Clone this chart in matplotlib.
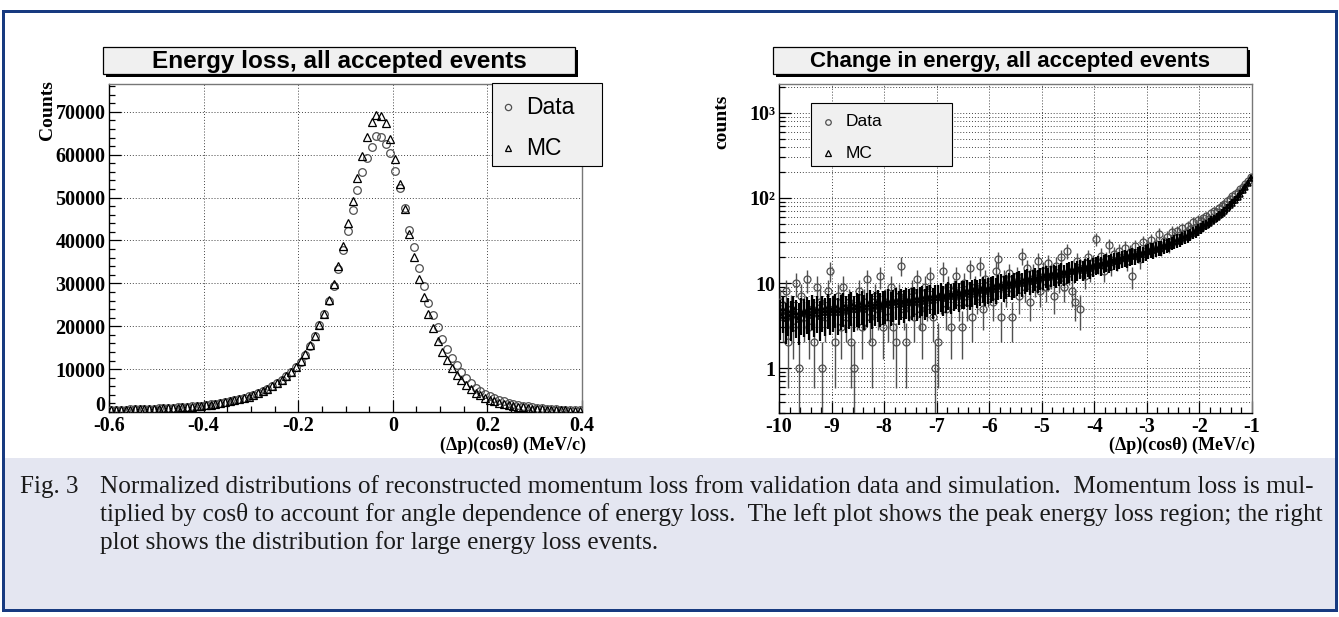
import numpy as np
import matplotlib
matplotlib.use("Agg")
import matplotlib.pyplot as plt
from matplotlib.patches import Rectangle
from matplotlib.lines import Line2D
from matplotlib.ticker import MultipleLocator, LogLocator, NullFormatter, FuncFormatter, FixedLocator

# ---------------- data ----------------
left_x = np.round(np.arange(-0.595, 0.40, 0.01), 3)          # bin centres
left_data = [500, 520, 540, 560, 590, 620, 650, 690, 730, 770, 820, 870, 930, 990, 1060, 1130,
             1210, 1300, 1400, 1510, 1630, 1760, 1910, 2080, 2270, 2480, 2720, 2990, 3290, 3630,
             4010, 4440, 4920, 5460, 6070, 6760, 7540, 8420, 9420, 10500,
             11700, 13300, 15400, 17800, 20200, 22800, 26000, 29300, 33300, 37700, 42200, 47200,
             51800, 55900, 59300, 61900, 64400, 64200, 62600, 60400, 56300, 52200, 47600, 42500,
             38400, 33500, 29500, 25500, 22700, 19800, 17000, 14600, 12700, 10900, 9300, 7900,
             6700, 5700,
             4800, 4200, 3700, 3250, 2850, 2500, 2200, 1930, 1700, 1500, 1320, 1160, 1020, 900,
             800, 710, 630, 560, 500, 450, 400, 360]
left_mc = [480, 500, 520, 540, 570, 600, 630, 660, 700, 740, 790, 840, 900, 960, 1030, 1100,
           1180, 1270, 1370, 1480, 1600, 1730, 1880, 2050, 2240, 2450, 2690, 2960, 3260, 3600,
           3980, 4410, 4890, 5430, 6040, 6730, 7510, 8400, 9400, 10600,
           11900, 13600, 15600, 17700, 20300, 22900, 26200, 29900, 34100, 38800, 44000, 49200,
           54600, 59700, 64200, 67700, 69200, 69000, 67300, 63600, 58900, 53100, 47400, 41400,
           36100, 31000, 26800, 22800, 19500, 16500, 14000, 12100, 10300, 8700, 7400, 6200,
           5300, 4500,
           3850, 3300, 2850, 2450, 2120, 1830, 1590, 1380, 1200, 1050, 920, 810, 710, 630,
           560, 500, 450, 400, 360, 330, 300, 270]

right_x = np.round(np.arange(-9.975, -1.0, 0.05), 3)          # bin centres
right_data = [6, 4, 8, 2, 5, 3, 10, 1, 7, 4,
              11, 3, 5, 2, 9, 6, 1, 4, 8, 14,
              5, 2, 7, 3, 9, 4, 6, 2, 1, 5,
              8, 3, 6, 11, 4, 2, 7, 5, 12, 3,
              6, 4, 9, 3, 2, 7, 16, 5, 2, 6,
              8, 4, 11, 5, 3, 9, 6, 12, 4, 1,
              2, 7, 14, 5, 9, 3, 8, 12, 6, 3,
              10, 6, 15, 4, 9, 7, 16, 5, 11, 8,
              9, 6, 14, 19, 4, 11, 8, 13, 4, 10,
              12, 7, 21, 9, 15, 6, 13, 10, 18, 8,
              14, 9, 17, 12, 7, 16, 11, 20, 9, 24,
              13, 8, 6, 18, 5, 15, 12, 20, 14, 17,
              33, 17, 21, 14, 19, 28, 16, 22, 18, 24,
              20, 26, 18, 23, 12, 27, 22, 19, 30, 24,
              27, 32, 25, 29, 38, 26, 31, 35, 28, 40,
              34, 41, 37, 44, 39, 47, 43, 52, 46, 55,
              54, 58, 61, 57, 66, 70, 68, 76, 80, 85,
              92, 98, 105, 110, 118, 126, 135, 148, 160, 178]
right_mc = [4.2, 4.8, 3.9, 4.5, 4.1, 4.9, 4.3, 3.8, 4.6, 4.4,
            4.7, 4.2, 5.0, 4.4, 4.8, 4.1, 4.9, 4.5, 5.1, 4.6,
            4.9, 5.2, 4.6, 5.0, 5.4, 4.8, 5.1, 5.5, 4.9, 5.3,
            5.2, 5.6, 5.0, 5.4, 5.8, 5.1, 5.5, 5.9, 5.3, 5.6,
            5.7, 6.0, 5.5, 5.9, 6.2, 5.6, 6.1, 5.8, 6.3, 6.0,
            6.2, 6.5, 6.0, 6.4, 6.7, 6.1, 6.6, 6.9, 6.3, 6.8,
            6.9, 7.2, 6.7, 7.1, 7.5, 7.0, 7.4, 7.8, 7.2, 7.7,
            7.7, 8.0, 7.5, 8.1, 8.4, 7.9, 8.3, 8.7, 8.2, 8.6,
            8.8, 9.2, 8.6, 9.3, 9.6, 9.0, 9.5, 10.0, 9.4, 9.9,
            10.2, 10.6, 10.0, 10.8, 11.1, 10.5, 11.0, 11.5, 10.9, 11.6,
            11.8, 12.3, 11.7, 12.5, 12.9, 12.2, 12.8, 13.4, 12.9, 13.5,
            13.8, 14.3, 13.7, 14.5, 15.0, 14.4, 15.1, 15.6, 15.0, 15.8,
            16.3, 16.9, 16.2, 17.2, 17.7, 17.1, 17.9, 18.5, 18.0, 18.9,
            19.5, 20.1, 19.6, 20.6, 21.1, 20.8, 21.7, 22.3, 22.0, 23.0,
            23.8, 24.5, 24.3, 25.4, 26.1, 26.0, 27.3, 28.0, 28.2, 29.6,
            30.8, 31.6, 32.2, 33.8, 35.0, 35.9, 37.6, 39.1, 40.4, 42.5,
            44.5, 46.4, 48.6, 51.0, 53.6, 56.3, 59.4, 62.6, 66.1, 70.5,
            76.0, 82.0, 88.0, 95.0, 103.0, 112.0, 123.0, 136.0, 152.0, 172.0]

left_title = "Energy loss, all accepted events"
right_title = "Change in energy, all accepted events"
x_label = "(Δp)(cosθ) (MeV/c)"
legend_labels = ["Data", "MC"]
caption_tag = "Fig. 3"
caption_lines = [
    "Normalized distributions of reconstructed momentum loss from validation data and simulation.  Momentum loss is mul-",
    "tiplied by cosθ to account for angle dependence of energy loss.  The left plot shows the peak energy loss region; the right",
    "plot shows the distribution for large energy loss events.",
]

# ---------------- figure ----------------
W, H = 1339, 617
fig = plt.figure(figsize=(W / 100, H / 100), dpi=100)
fig.patch.set_facecolor("white")

def fx(x):
    return x / W

def fy(y):
    return 1 - y / H

SERIF = ["Liberation Serif", "DejaVu Serif"]
SANS = ["Liberation Sans", "DejaVu Sans"]
PX = 72 / 100  # points per pixel
TICK_FS = 14.5

DATA_C = "#505050"
MC_C = "black"
GRID_KW = dict(color="#444444", linestyle=(0, (1, 2)), linewidth=0.7)

def style_axes(ax):
    ax.set_facecolor("white")
    for s in ["left", "bottom"]:
        ax.spines[s].set_color("black")
        ax.spines[s].set_linewidth(1.0)
    for s in ["top", "right"]:
        ax.spines[s].set_color("#777777")
        ax.spines[s].set_linewidth(1.0)
    ax.tick_params(which="both", direction="in", top=False, right=False, width=0.9)
    ax.tick_params(which="major", length=12 * PX)
    ax.tick_params(axis="x", which="major", pad=3.0)
    ax.tick_params(axis="y", which="major", pad=2.5)
    ax.tick_params(which="minor", length=6 * PX)
    for lab in ax.get_xticklabels() + ax.get_yticklabels():
        lab.set_fontfamily(SERIF)
        lab.set_fontweight("bold")
        lab.set_fontsize(TICK_FS)

# ----- left panel -----
ax1 = fig.add_axes([fx(109), fy(412), fx(582 - 109), (412 - 84) / H])
ax1.plot(left_x, left_data, "o", mfc="none", mec=DATA_C, ms=5.5, mew=0.9, zorder=3)
ax1.plot(left_x, left_mc, "^", mfc="none", mec=MC_C, ms=5.5, mew=0.9, zorder=4)
ax1.set_xlim(-0.6, 0.4)
ax1.set_ylim(0, 76500)
ax1.xaxis.set_major_locator(MultipleLocator(0.2))
ax1.xaxis.set_minor_locator(MultipleLocator(0.05))
ax1.yaxis.set_major_locator(MultipleLocator(10000))
ax1.yaxis.set_minor_locator(MultipleLocator(2000))
ax1.xaxis.set_major_formatter(FuncFormatter(lambda v, p: "0" if abs(v) < 1e-9 else f"{v:.1f}"))
# the y "0" label is drawn separately (slightly raised, as in the reference)
ax1.yaxis.set_major_formatter(FuncFormatter(lambda v, p: "" if abs(v) < 1 else f"{int(round(v))}"))
ax1.grid(True, which="major", **GRID_KW)
style_axes(ax1)
fig.text(fx(105), fy(406), "0", ha="right", va="center", fontfamily=SERIF,
         fontweight="bold", fontsize=TICK_FS)

# ----- right panel -----
ax2 = fig.add_axes([fx(779), fy(413), fx(1252 - 779), (413 - 84) / H])
d = np.array(right_data, dtype=float)
m = np.array(right_mc, dtype=float)
ax2.set_yscale("log")
ax2.errorbar(right_x, d, yerr=np.sqrt(d), fmt="o", mfc="none", mec=DATA_C, ecolor=DATA_C,
             ms=5.0, mew=0.9, elinewidth=1.0, capsize=0, zorder=3)
ax2.errorbar(right_x, m, yerr=np.sqrt(m), fmt="^", mfc="none", mec=MC_C, ecolor=MC_C,
             ms=5.0, mew=1.1, elinewidth=1.6, capsize=0, zorder=4)
ax2.set_xlim(-10, -1)
ax2.set_ylim(0.296, 2190)
ax2.xaxis.set_major_locator(MultipleLocator(1))
ax2.xaxis.set_minor_locator(MultipleLocator(0.2))
ax2.xaxis.set_major_formatter(FuncFormatter(lambda v, p: f"{int(round(v))}"))
ax2.yaxis.set_major_locator(FixedLocator([1, 10, 100, 1000]))
ax2.yaxis.set_minor_locator(LogLocator(base=10, subs=np.arange(2, 10), numticks=30))
ax2.yaxis.set_minor_formatter(NullFormatter())
ylab = {1: "1", 10: "10", 100: "10²", 1000: "10³"}
ax2.yaxis.set_major_formatter(FuncFormatter(lambda v, p: ylab.get(int(round(v)), "")))
ax2.grid(True, which="major", axis="x", **GRID_KW)
ax2.grid(True, which="both", axis="y", **GRID_KW)
style_axes(ax2)

# ----- axis titles -----
fig.text(fx(47), fy(110), "Counts", rotation=90, ha="center", va="center",
         fontfamily=SERIF, fontweight="bold", fontsize=14)
fig.text(fx(722), fy(122), "counts", rotation=90, ha="center", va="center",
         fontfamily=SERIF, fontweight="bold", fontsize=14)
fig.text(fx(586), fy(445), x_label, ha="right", va="center",
         fontfamily=SERIF, fontweight="bold", fontsize=13)
fig.text(fx(1255), fy(445), x_label, ha="right", va="center",
         fontfamily=SERIF, fontweight="bold", fontsize=13)

# ----- title boxes -----
def title_box(x0, x1, y0, y1, text, fs):
    sh = 3
    fig.add_artist(Rectangle((fx(x0 + sh), fy(y1 + sh)), fx(x1 - x0), (y1 - y0) / H,
                             transform=fig.transFigure, facecolor="black", edgecolor="none", zorder=2))
    fig.add_artist(Rectangle((fx(x0), fy(y1)), fx(x1 - x0), (y1 - y0) / H,
                             transform=fig.transFigure, facecolor="#f0f0f0", edgecolor="black",
                             linewidth=0.9, zorder=3))
    fig.text(fx((x0 + x1) / 2), fy((y0 + y1) / 2 + 1), text, ha="center", va="center",
             fontfamily=SANS, fontweight="bold", fontsize=fs, zorder=4)

title_box(103, 575, 47, 74, left_title, 17.5)
title_box(773, 1247, 47, 74, right_title, 16)

# ----- legends -----
def legend_box(x0, x1, y0, y1, mx, tx, ys, fs, ms):
    fig.add_artist(Rectangle((fx(x0), fy(y1)), fx(x1 - x0), (y1 - y0) / H,
                             transform=fig.transFigure, facecolor="#f0f0f0", edgecolor="black",
                             linewidth=0.8, zorder=5))
    fig.add_artist(Line2D([fx(mx)], [fy(ys[0])], marker="o", mfc="none", mec=DATA_C, ms=ms, mew=0.9,
                          transform=fig.transFigure, zorder=6))
    fig.add_artist(Line2D([fx(mx)], [fy(ys[1])], marker="^", mfc="none", mec=MC_C, ms=ms, mew=0.9,
                          transform=fig.transFigure, zorder=6))
    for lab, y in zip(legend_labels, ys):
        fig.text(fx(tx), fy(y), lab, ha="left", va="center", fontfamily=SANS, fontsize=fs, zorder=6)

legend_box(492, 602, 83, 166, 508, 526, (107, 148), 16.5, 4.5)
legend_box(811, 952, 103, 166, 828, 846, (122, 153), 12.5, 4.0)

# ----- caption -----
fig.add_artist(Rectangle((fx(3), fy(610)), fx(1336 - 3), (610 - 458) / H,
                         transform=fig.transFigure, facecolor="#e4e6f1", edgecolor="none", zorder=1))
fig.add_artist(Rectangle((fx(3), fy(610)), fx(1336 - 3), (610 - 11) / H,
                         transform=fig.transFigure, facecolor="none", edgecolor="#173a80",
                         linewidth=3 * PX, zorder=7))
fig.text(fx(20), fy(487), caption_tag, ha="left", va="center", fontfamily=SERIF,
         fontsize=18, color="#1a1a1a")
for i, line in enumerate(caption_lines):
    fig.text(fx(100), fy(487 + 28 * i), line, ha="left", va="center", fontfamily=SERIF,
             fontsize=18.2, color="#1a1a1a")

fig.savefig("out.png", dpi=100)
